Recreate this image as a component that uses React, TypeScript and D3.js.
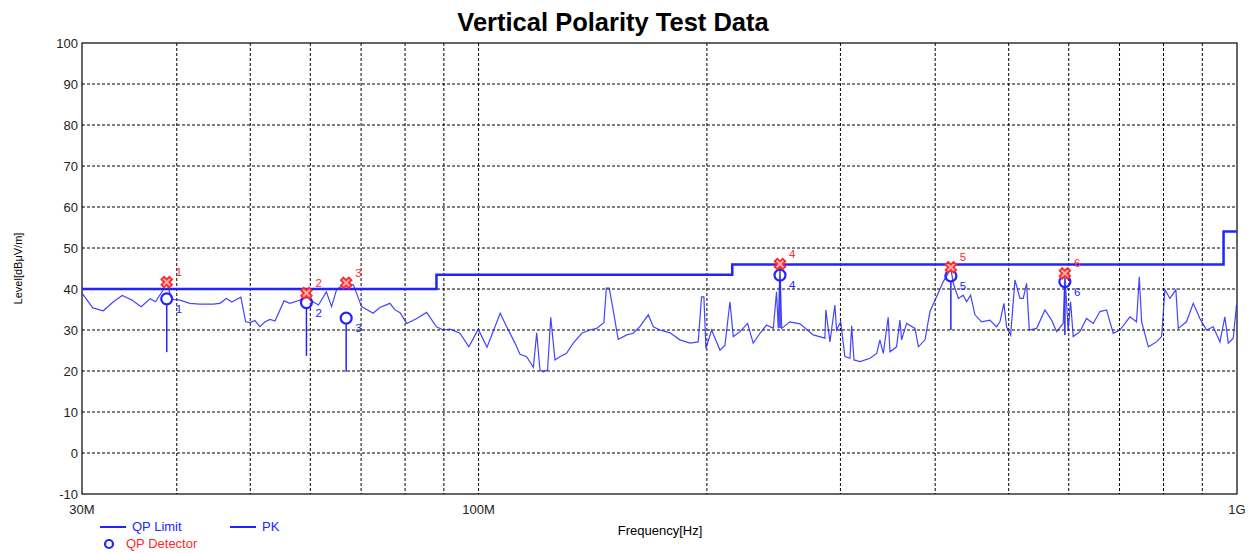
import * as d3 from 'd3'

// FCC class B style limit, step after each break frequency (MHz)
const limitFreq = [30, 88, 216, 960, 1000]
const limitLevel = [40, 43.5, 46, 54, 54]

// peak trace: [MHz, dBuV/m]
const pkTrace: [number, number][] = [
  [30.0, 39.0], [31.0, 35.4], [32.0, 34.7], [33.0, 36.9], [33.9, 38.4], [34.9, 37.3], [35.9, 35.7],
  [36.9, 37.6], [37.5, 36.9], [38.4, 39.8], [38.8, 41.5], [39.4, 37.5], [40.4, 37.3], [41.6, 36.5],
  [42.9, 36.3], [44.7, 36.3], [45.6, 36.5], [46.5, 37.7], [47.3, 36.8], [48.0, 37.5], [48.6, 38.0],
  [49.3, 32.0], [50.0, 31.8], [50.7, 32.3], [51.5, 30.8], [52.3, 32.0], [53.1, 32.6], [53.9, 32.2],
  [55.4, 37.1], [56.4, 36.5], [58.2, 37.3], [59.3, 39.0], [60.5, 36.9], [61.5, 36.1], [63.0, 39.3],
  [64.0, 35.7], [65.0, 39.9], [67.0, 41.5], [68.4, 41.0], [70.1, 35.7], [72.6, 34.1], [74.1, 35.5],
  [76.4, 36.5], [77.6, 34.9], [78.8, 34.2], [80.4, 31.6], [82.9, 32.8], [85.4, 34.3], [88.0, 30.8],
  [89.8, 30.0], [91.7, 30.2], [94.5, 29.2], [97.1, 25.9], [99.9, 30.2], [102.6, 25.8], [106.8, 34.1],
  [108.9, 30.8], [111.7, 26.8], [113.4, 24.1], [115.7, 23.5], [118.1, 20.9], [119.3, 29.3], [120.5, 20.2],
  [121.7, 19.8], [123.3, 20.2], [124.5, 33.1], [126.1, 22.7], [128.0, 23.5], [130.6, 24.3], [133.3, 26.8],
  [136.8, 29.2], [140.2, 30.0], [143.1, 30.4], [146.3, 31.8], [147.4, 40.2], [148.7, 40.2], [150.2, 35.7],
  [152.8, 27.7], [156.8, 28.8], [159.9, 29.2], [163.2, 30.8], [167.4, 33.7], [170.0, 30.8], [173.4, 30.0],
  [178.8, 29.3], [184.3, 27.6], [190.0, 26.8], [194.8, 27.1], [196.8, 38.1], [198.2, 38.1], [199.4, 25.5],
  [202.9, 30.0], [208.1, 25.1], [211.3, 26.3], [214.5, 36.9], [216.7, 28.4], [221.2, 29.6], [226.3, 31.6],
  [230.2, 26.8], [235.0, 29.2], [239.7, 31.2], [244.7, 30.4], [247.1, 39.3], [248.4, 30.4], [249.7, 45.9],
  [251.0, 30.4], [257.3, 32.0], [265.3, 31.5], [276.2, 28.8], [286.2, 28.0], [287.0, 34.9], [290.6, 27.1],
  [295.0, 36.1], [296.5, 30.0], [300.2, 32.0], [304.1, 23.5], [308.8, 23.1], [310.4, 31.0], [312.6, 22.7],
  [318.4, 22.3], [328.2, 23.1], [334.9, 24.3], [338.2, 27.6], [341.7, 24.3], [346.8, 33.1], [348.7, 24.7],
  [355.7, 25.9], [359.4, 32.4], [361.2, 27.6], [366.8, 31.6], [376.2, 30.4], [380.1, 25.9], [387.8, 27.6],
  [393.7, 34.5], [401.7, 38.1], [409.9, 41.8], [416.0, 43.8], [419.2, 45.3], [422.6, 41.4], [429.2, 37.7],
  [435.6, 38.5], [440.0, 36.9], [445.4, 38.5], [451.3, 33.7], [460.5, 32.0], [472.3, 32.4], [481.9, 30.8],
  [486.9, 32.0], [492.8, 36.5], [496.8, 30.8], [503.0, 28.8], [509.6, 42.2], [517.4, 37.7], [522.6, 37.7],
  [527.9, 41.4], [532.3, 30.0], [544.3, 30.4], [558.1, 34.9], [569.6, 32.4], [578.4, 29.6], [590.0, 31.6],
  [593.0, 43.8], [598.9, 30.0], [603.4, 36.9], [608.2, 28.4], [620.7, 29.6], [633.3, 32.8], [646.4, 31.6],
  [659.6, 34.5], [672.9, 34.9], [686.8, 29.2], [700.9, 30.0], [722.5, 33.2], [737.1, 32.0], [743.3, 43.0],
  [748.6, 32.0], [764.0, 25.9], [783.2, 27.1], [795.4, 28.4], [803.4, 39.8], [815.8, 37.7], [830.6, 39.8],
  [836.7, 30.4], [857.8, 32.0], [875.6, 36.5], [893.5, 32.8], [911.5, 30.0], [930.4, 30.8], [949.5, 27.1],
  [963.8, 33.2], [973.9, 26.8], [988.6, 28.0], [998.5, 36.1],
]

// final measurement markers
const markerFreq = [38.8, 59.3, 66.9, 249.7, 419.5, 593.0]
const markerPeak = [41.7, 39.0, 41.5, 46.1, 45.3, 43.8]
const markerQP = [37.6, 36.7, 32.9, 43.4, 43.2, 41.8]
const markerStemLow = [24.6, 23.7, 19.8, 30.5, 30.0, 28.8]

const yTicks = [-10, 0, 10, 20, 30, 40, 50, 60, 70, 80, 90, 100]
const xGrid = [40, 50, 60, 70, 80, 90, 100, 200, 300, 400, 500, 600, 700, 800, 900]
const xLabels: [number, string][] = [[30, '30M'], [100, '100M'], [1000, '1G']]

const W = 1257
const H = 553
const margin = { top: 43, right: 20, bottom: 59, left: 82 }

const BLUE = '#2323ff'
const RED = '#ff2a2a'
const FONT = 'Arial, "Liberation Sans", sans-serif'

export default function App() {
  const x = d3.scaleLog().domain([30, 1000]).range([margin.left, W - margin.right])
  const y = d3.scaleLinear().domain([-10, 100]).range([H - margin.bottom, margin.top])

  const limitPath = d3.line<number>()
    .x((_, i) => x(limitFreq[i]))
    .y((_, i) => y(limitLevel[i]))
    .curve(d3.curveStepAfter)(limitFreq)

  const pkPath = d3.line<[number, number]>()
    .x(d => x(d[0]))
    .y(d => y(d[1]))(pkTrace)

  const crossPath = d3.symbol().type(d3.symbolCross).size(70)()

  const x0 = margin.left
  const x1 = W - margin.right
  const y0 = margin.top
  const y1 = H - margin.bottom

  return (
    <svg width={W} height={H} style={{ position: 'absolute', left: 0, top: 0, background: '#fff' }}
      fontFamily={FONT}>
      <text x={613} y={31} textAnchor="middle" fontSize={25.5} fontWeight="bold" fill="#000">
        Vertical Polarity Test Data
      </text>

      {/* grid */}
      {yTicks.filter(t => t > -10 && t < 100).map(t => (
        <line key={'gy' + t} x1={x0} x2={x1} y1={y(t)} y2={y(t)}
          stroke="#000" strokeWidth={1} strokeDasharray="3,2" />
      ))}
      {xGrid.map(f => (
        <line key={'gx' + f} x1={x(f)} x2={x(f)} y1={y0} y2={y1}
          stroke="#000" strokeWidth={1} strokeDasharray="3,2" />
      ))}

      {/* frame */}
      <rect x={x0} y={y0} width={x1 - x0} height={y1 - y0} fill="none" stroke="#000" strokeWidth={1.2} />

      {/* y ticks */}
      {yTicks.map(t => (
        <text key={'ty' + t} x={x0 - 4} y={y(t) + 5} textAnchor="end" fontSize={13} fill="#222">{t}</text>
      ))}
      {xLabels.map(([f, s]) => (
        <text key={'tx' + s} x={x(f)} y={y1 + 20} textAnchor="middle" fontSize={13} fill="#222">{s}</text>
      ))}

      <text transform={`translate(22,${(y0 + y1) / 2}) rotate(-90)`} textAnchor="middle" fontSize={11} fill="#000">
        Level[dBμV/m]
      </text>
      <text x={660} y={535} textAnchor="middle" fontSize={13} fill="#000">Frequency[Hz]</text>

      {/* traces */}
      <path d={pkPath ?? ''} fill="none" stroke={BLUE} strokeWidth={1.2} strokeOpacity={0.85} />
      <path d={limitPath ?? ''} fill="none" stroke={BLUE} strokeWidth={2.5} />

      {/* markers */}
      {markerFreq.map((f, i) => {
        const mx = x(f)
        return (
          <g key={'m' + i}>
            <line x1={mx} x2={mx} y1={y(markerQP[i]) + 6} y2={y(markerStemLow[i])} stroke={BLUE} strokeWidth={1.5} />
            <circle cx={mx} cy={y(markerQP[i])} r={5.5} fill="none" stroke={BLUE} strokeWidth={2.2} />
            <path d={crossPath ?? ''} transform={`translate(${mx},${y(markerPeak[i])}) rotate(45)`}
              fill="#ffb0b0" stroke={RED} strokeWidth={1.8} />
            <text x={mx + 9} y={y(markerPeak[i]) - 6} fontSize={11.5} fill={RED}>{i + 1}</text>
            <text x={mx + 9} y={y(markerQP[i]) + 14} fontSize={11.5} fill={BLUE}>{i + 1}</text>
          </g>
        )
      })}

      {/* legend */}
      <line x1={100} x2={126} y1={527} y2={527} stroke={BLUE} strokeWidth={2} />
      <text x={132} y={531} fontSize={13} fill={BLUE}>QP Limit</text>
      <line x1={230} x2={256} y1={527} y2={527} stroke={BLUE} strokeWidth={2} />
      <text x={262} y={531} fontSize={13} fill={BLUE}>PK</text>
      <circle cx={109} cy={544} r={4} fill="none" stroke={BLUE} strokeWidth={2.2} />
      <text x={126} y={548} fontSize={13} fill={RED}>QP Detector</text>
    </svg>
  )
}
